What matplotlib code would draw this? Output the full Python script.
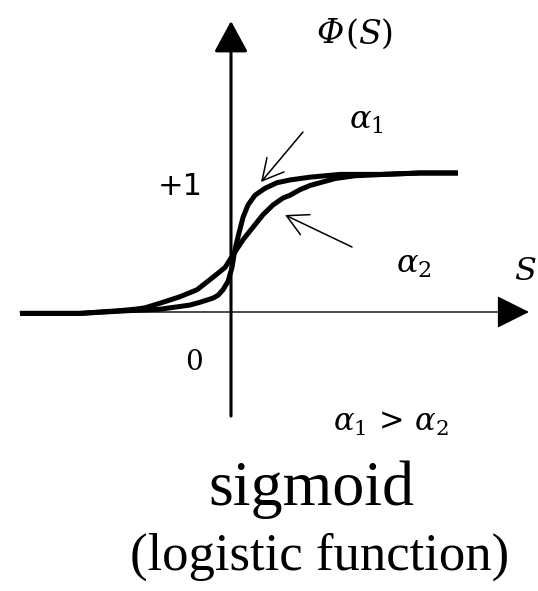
import matplotlib.pyplot as plt

plt.rcParams['mathtext.fontset'] = 'dejavuserif'

# curves (S, phi)
s_alpha1 = [-2.11, -1.51, -1.01, -0.71, -0.51, -0.41, -0.31, -0.18, -0.13, -0.08, -0.03, 0.01,
            0.03, 0.05, 0.07, 0.12, 0.17, 0.24, 0.34, 0.46, 0.59, 0.79, 1.09, 1.49, 1.89, 2.27]
phi_alpha1 = [-0.01, -0.01, 0.01, 0.02, 0.04, 0.05, 0.07, 0.10, 0.12, 0.16, 0.22, 0.32,
              0.41, 0.48, 0.54, 0.68, 0.77, 0.84, 0.89, 0.93, 0.95, 0.97, 0.99, 0.99, 1.0, 1.0]

s_alpha2 = [-2.11, -1.51, -1.11, -0.96, -0.86, -0.68, -0.51, -0.34, -0.18, -0.06, 0.02, 0.12,
            0.22, 0.32, 0.42, 0.52, 0.59, 0.69, 0.79, 0.89, 1.04, 1.24, 1.54, 1.89, 2.27]
phi_alpha2 = [-0.01, -0.01, 0.01, 0.02, 0.03, 0.07, 0.11, 0.16, 0.25, 0.32, 0.41, 0.52,
              0.61, 0.70, 0.77, 0.82, 0.84, 0.88, 0.91, 0.93, 0.96, 0.98, 0.99, 1.0, 1.0]

W, H = 538, 591
fig = plt.figure(figsize=(W / 100, H / 100), dpi=100)
ax = fig.add_axes([0, 0, 1, 1])
ax.set_xlim(-2.31, 3.07)
ax.set_ylim((312 - 591) / 139, 312 / 139)
ax.axis('off')

# pixel -> data helpers for the decorations
def dx(x):
    return (x - 231) / 100

def dy(y):
    return (312 - y) / 139

def fpos(x, y):
    return x / W, 1 - y / H

# axes with filled arrow heads
ax.annotate('', xy=(dx(231), dy(21)), xytext=(dx(231), dy(416)),
            arrowprops=dict(arrowstyle='-|>,head_length=2.4,head_width=1.3', lw=2.2,
                            color='black', shrinkA=0, shrinkB=0, mutation_scale=8))
ax.annotate('', xy=(dx(529), dy(312)), xytext=(dx(20), dy(312)),
            arrowprops=dict(arrowstyle='-|>,head_length=2.6,head_width=1.3', lw=1.0,
                            color='black', shrinkA=0, shrinkB=0, mutation_scale=8))

ax.plot(s_alpha1, phi_alpha1, color='black', lw=3.6, solid_joinstyle='round', solid_capstyle='butt')
ax.plot(s_alpha2, phi_alpha2, color='black', lw=3.6, solid_joinstyle='round', solid_capstyle='butt')

# pointer arrows
ax.annotate('', xy=(dx(261), dy(182)), xytext=(dx(303), dy(132)),
            arrowprops=dict(arrowstyle='->,head_length=0.75,head_width=0.4', lw=1.1,
                            color='black', shrinkA=0, shrinkB=0, mutation_scale=20))
ax.annotate('', xy=(dx(285), dy(215)), xytext=(dx(352), dy(247)),
            arrowprops=dict(arrowstyle='->,head_length=0.75,head_width=0.4', lw=1.1,
                            color='black', shrinkA=0, shrinkB=0, mutation_scale=20))

# labels
fig.text(*fpos(344, 34), 'Φ', fontsize=24, family='DejaVu Serif', style='italic',
         ha='right', va='center')
fig.text(*fpos(345, 34), r'$(S)$', fontsize=24, ha='left', va='center')
fig.text(*fpos(366, 121), r'$\alpha_1$', fontsize=23, ha='center', va='center')
fig.text(*fpos(414, 265), r'$\alpha_2$', fontsize=23, ha='center', va='center')
fig.text(*fpos(525, 272), r'$S$', fontsize=23, ha='center', va='center')
fig.text(*fpos(391, 424), r'$\alpha_1\,>\,\alpha_2$', fontsize=22, ha='center', va='center')
fig.text(*fpos(180, 186), '+1', fontsize=22, family='DejaVu Sans', ha='center', va='center')
fig.text(*fpos(194, 362), '0', fontsize=20, family='DejaVu Serif', ha='center', va='center')

fig.text(*fpos(311, 505), 'sigmoid', fontsize=46, family='Liberation Serif', ha='center', va='baseline')
fig.text(*fpos(320, 557), '(logistic function)', fontsize=38, family='Liberation Serif',
         ha='center', va='center')

fig.savefig('out.png', dpi=100, facecolor='white')
